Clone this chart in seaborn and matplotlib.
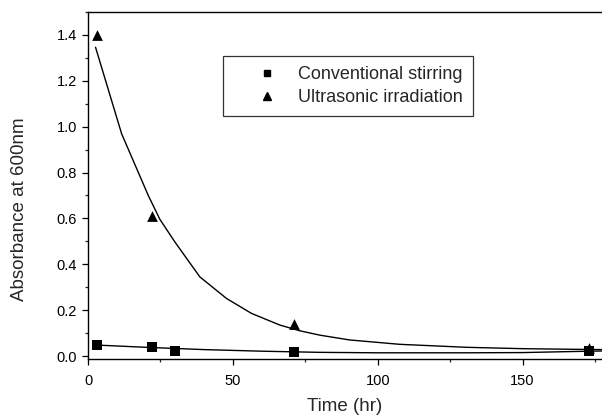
import numpy as np
import pandas as pd
import seaborn as sns
import matplotlib.pyplot as plt
from matplotlib.lines import Line2D
from matplotlib.ticker import MultipleLocator

# measured points
conv_time = [3, 22, 30, 71, 173]
conv_abs = [0.047, 0.040, 0.022, 0.016, 0.020]
ultra_time = [3, 22, 71, 173]
ultra_abs = [1.40, 0.61, 0.14, 0.035]

# fitted curves
ultra_fit_time = [2.6, 11.6, 20.8, 24.8, 30.0, 38.6, 47.8, 56.4, 66.2, 73.1, 80.0,
                  90.3, 107.6, 130.6, 150.0, 169.7, 177.4]
ultra_fit_abs = [1.346, 0.969, 0.700, 0.596, 0.497, 0.345, 0.251, 0.186, 0.135, 0.110, 0.091,
                 0.070, 0.051, 0.038, 0.032, 0.029, 0.028]
conv_fit_time = [2.6, 20, 40, 60, 80, 100, 130, 150, 165, 177.4]
conv_fit_abs = [0.048, 0.038, 0.028, 0.021, 0.016, 0.014, 0.014, 0.015, 0.019, 0.022]

sns.set_style('ticks')
plt.rcParams['font.family'] = ['Liberation Sans', 'DejaVu Sans']

fig = plt.figure(figsize=(6.02, 4.19), dpi=100)
ax = fig.add_axes([0.1462, 0.1432, 0.8538, 0.8282])

fit_df = pd.concat([
    pd.DataFrame({'t': conv_fit_time, 'a': conv_fit_abs, 's': 'Conventional stirring'}),
    pd.DataFrame({'t': ultra_fit_time, 'a': ultra_fit_abs, 's': 'Ultrasonic irradiation'}),
])
sns.lineplot(data=fit_df, x='t', y='a', units='s', estimator=None, color='black',
             linewidth=1.0, sort=False, ax=ax, legend=False)

sns.scatterplot(x=conv_time, y=conv_abs, marker='s', s=45, color='black',
                edgecolor='black', linewidth=0, ax=ax, zorder=3)
sns.scatterplot(x=ultra_time, y=ultra_abs, marker='^', s=60, color='black',
                edgecolor='black', linewidth=0, ax=ax, zorder=3)

ax.set_xlim(0, 177.4)
ax.set_ylim(-0.013, 1.5)
ax.xaxis.set_major_locator(MultipleLocator(50))
ax.xaxis.set_minor_locator(MultipleLocator(25))
ax.yaxis.set_major_locator(MultipleLocator(0.2))
ax.yaxis.set_minor_locator(MultipleLocator(0.1))
ax.yaxis.set_major_formatter(plt.FormatStrFormatter('%.1f'))

ax.tick_params(which='major', direction='out', length=4, width=0.9, labelsize=10.5, colors='black')
ax.tick_params(which='minor', direction='out', length=2.2, width=0.9)
ax.tick_params(axis='x', pad=7)
ax.tick_params(axis='y', pad=4)

for side in ['left', 'bottom', 'top']:
    ax.spines[side].set_linewidth(1.0)
    ax.spines[side].set_color('black')
ax.spines['right'].set_visible(False)

ax.set_xlabel('Time (hr)', fontsize=13.5)
ax.set_ylabel('Absorbance at 600nm', fontsize=13.5)
ax.xaxis.set_label_coords(0.5, -0.112)
ax.yaxis.set_label_coords(-0.117, 0.432)

handles = [
    Line2D([], [], linestyle='none', marker='s', markersize=5, color='black', label='Conventional stirring'),
    Line2D([], [], linestyle='none', marker='^', markersize=5.5, color='black', label='Ultrasonic irradiation'),
]
leg = ax.legend(handles=handles, loc='upper left', bbox_to_anchor=(0.263, 0.873),
                borderaxespad=0, fontsize=13, frameon=True, fancybox=False,
                edgecolor='black', borderpad=0.55, labelspacing=0.35,
                handlelength=3.8, handletextpad=-0.2)
leg.get_frame().set_linewidth(0.9)

plt.savefig('out.png', dpi=100)
